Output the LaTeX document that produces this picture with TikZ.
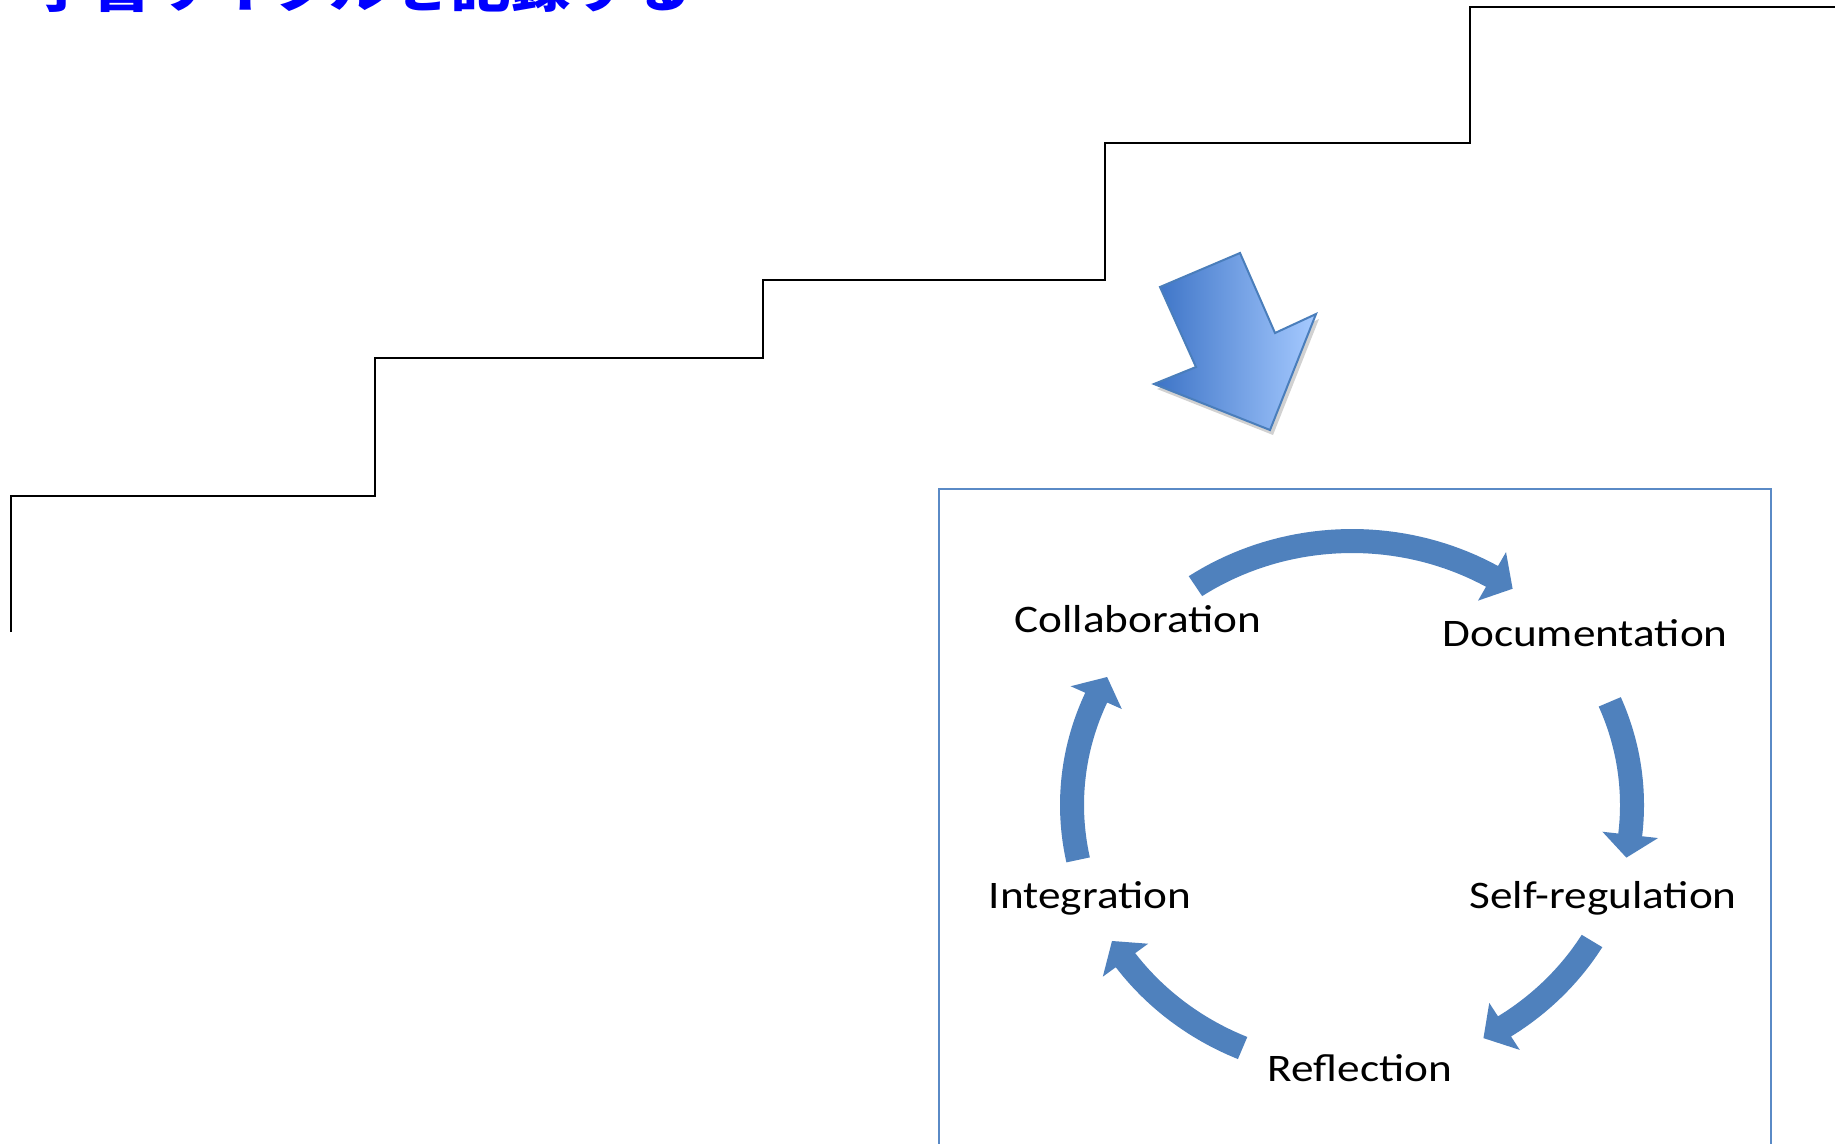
\documentclass[tikz,border=0pt]{standalone}
\usepackage{fontspec}
\setmainfont{Carlito}
\newfontfamily\labfont[FakeStretch=1.16]{Carlito}
\newfontfamily\jpfont[FakeStretch=1.16]{Noto Sans CJK JP}
\definecolor{cycblue}{HTML}{4F81BD}
\definecolor{boxblue}{HTML}{5A8AC6}
\definecolor{arrdark}{HTML}{3C73C6}
\definecolor{arrlight}{HTML}{A6CAFF}
\definecolor{arredge}{HTML}{4A7EBB}
\def\ccx{1352}\def\ccy{805}\def\crx{280}\def\cry{264}
\newcommand\cycarr[2]{%
  \pgfmathsetmacro\tbase{#2+5}%
  \fill[cycblue] plot[domain=#1:\tbase,samples=40] ({\ccx+(\crx+12)*cos(\x)},{\ccy-(\cry+12)*sin(\x)})
    -- ({\ccx+(\crx+28)*cos(\tbase)},{\ccy-(\cry+28)*sin(\tbase)})
    -- ({\ccx+\crx*cos(#2)},{\ccy-\cry*sin(#2)})
    -- ({\ccx+(\crx-28)*cos(\tbase)},{\ccy-(\cry-28)*sin(\tbase)})
    -- plot[domain=\tbase:#1,samples=40] ({\ccx+(\crx-12)*cos(\x)},{\ccy-(\cry-12)*sin(\x)})
    -- cycle;}
\tikzset{
  lab/.style={font=\labfont\fontsize{39}{41}\selectfont, inner sep=0pt, anchor=base},
  stair/.style={line width=2.6pt, black},
}
\begin{document}
\begin{tikzpicture}[x=1pt,y=-1pt]
\useasboundingbox (0,0) rectangle (1843,1143);
\fill[white] (0,0) rectangle (1843,1143);
% title (cut off at top, as in the reference)
\node[anchor=base west, inner sep=0pt, text=blue, font=\jpfont\bfseries\fontsize{52}{52}\selectfont] (title) at (31,8) {学習サイクルを記録する};
% stairs
\draw[stair] (11,632) -- (11,496) -- (375,496) -- (375,358) -- (763,358) -- (763,280) -- (1105,280) -- (1105,143) -- (1470,143) -- (1470,7) -- (1835,7);
% big arrow
\fill[black, opacity=0.18] ([shift={(3,5)}]1160,287) -- ([shift={(3,5)}]1240,253) -- ([shift={(3,5)}]1275,333) -- ([shift={(3,5)}]1316,314) -- ([shift={(3,5)}]1270,430) -- ([shift={(3,5)}]1154,384) -- ([shift={(3,5)}]1196,367) -- cycle;
\draw[line width=2pt, draw=arredge, left color=arrdark, right color=arrlight, line join=miter]
  (1160,287) -- (1240,253) -- (1275,333) -- (1316,314) -- (1270,430) -- (1154,384) -- (1196,367) -- cycle;
% box
\draw[boxblue, line width=2.6pt] (939,1160) -- (939,489) -- (1771,489) -- (1771,1160);
% cycle arrows
\cycarr{124}{55}
\cycarr{23}{-11.5}
\cycarr{-31}{-62}
\cycarr{247}{211}
\cycarr{192}{151}
% labels
\node[lab] (collab) at (1138,632) {Collaboration};
\node[lab] (docu) at (1585,646) {Documentation};
\node[lab] (selfreg) at (1603,908) {Self-regulation};
\node[lab] (integ) at (1090,908) {Integration};
\node[lab] (refl) at (1360,1081) {Reflection};
\end{tikzpicture}
\end{document}
